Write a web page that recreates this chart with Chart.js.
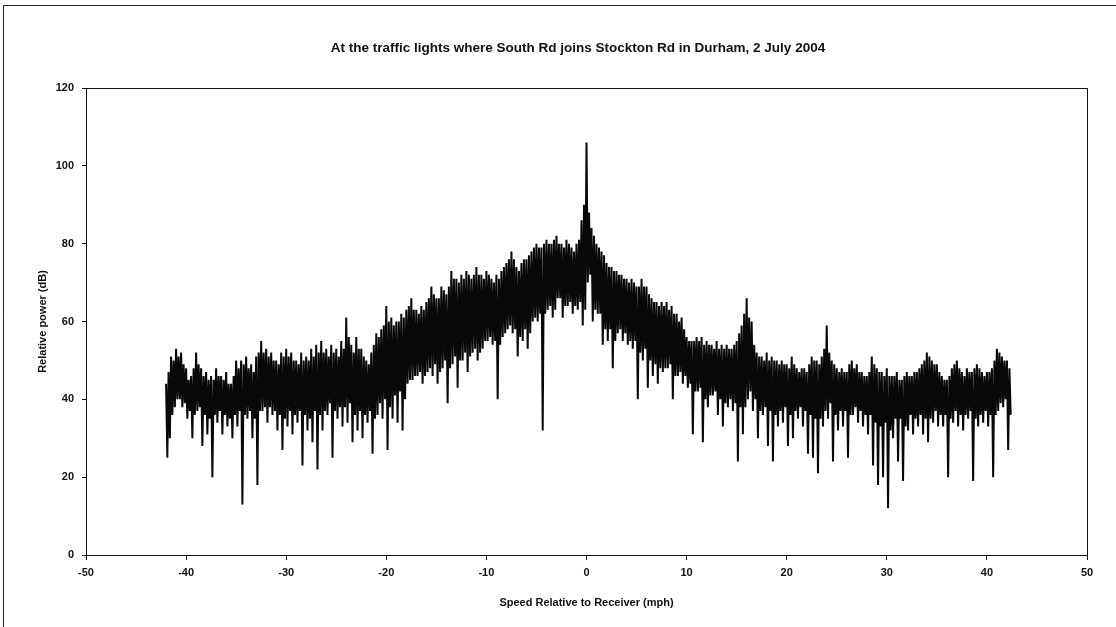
<!DOCTYPE html>
<html lang="en">
<head>
    <meta charset="UTF-8">
    <title>Doppler spectrum</title>
    <script src="https://cdn.jsdelivr.net/npm/chart.js"></script>
    <style>
        html, body { margin: 0; padding: 0; background: #fff; }
        #wrap { width: 1116px; height: 627px; }
    </style>
</head>
<body>
<div id="wrap"><canvas id="spectrum" width="1116" height="627"></canvas></div>
<script>
// speed bins (mph), read every 0.5 mph
const speeds = [
    -42, -41.5, -41, -40.5, -40, -39.5, -39, -38.5, -38, -37.5,
    -37, -36.5, -36, -35.5, -35, -34.5, -34, -33.5, -33, -32.5,
    -32, -31.5, -31, -30.5, -30, -29.5, -29, -28.5, -28, -27.5,
    -27, -26.5, -26, -25.5, -25, -24.5, -24, -23.5, -23, -22.5,
    -22, -21.5, -21, -20.5, -20, -19.5, -19, -18.5, -18, -17.5,
    -17, -16.5, -16, -15.5, -15, -14.5, -14, -13.5, -13, -12.5,
    -12, -11.5, -11, -10.5, -10, -9.5, -9, -8.5, -8, -7.5,
    -7, -6.5, -6, -5.5, -5, -4.5, -4, -3.5, -3, -2.5,
    -2, -1.5, -1, -0.5, 0, 0.5, 1, 1.5, 2, 2.5,
    3, 3.5, 4, 4.5, 5, 5.5, 6, 6.5, 7, 7.5,
    8, 8.5, 9, 9.5, 10, 10.5, 11, 11.5, 12, 12.5,
    13, 13.5, 14, 14.5, 15, 15.5, 16, 16.5, 17, 17.5,
    18, 18.5, 19, 19.5, 20, 20.5, 21, 21.5, 22, 22.5,
    23, 23.5, 24, 24.5, 25, 25.5, 26, 26.5, 27, 27.5,
    28, 28.5, 29, 29.5, 30, 30.5, 31, 31.5, 32, 32.5,
    33, 33.5, 34, 34.5, 35, 35.5, 36, 36.5, 37, 37.5,
    38, 38.5, 39, 39.5, 40, 40.5, 41, 41.5, 42
];

// highest point of the trace in each bin (dB)
const peaks = [
    44, 51, 53, 52, 48, 46, 52, 48, 47, 46,
    48, 46, 47, 44, 50, 50, 51, 49, 51, 55,
    53, 52, 50, 52, 53, 52, 50, 52, 51, 53,
    54, 55, 53, 54, 53, 55, 61, 54, 56, 53,
    50, 52, 57, 58, 64, 61, 60, 62, 63, 66,
    63, 64, 65, 69, 66, 69, 67, 73, 71, 72,
    73, 71, 74, 72, 73, 71, 72, 73, 75, 78,
    74, 75, 76, 78, 80, 79, 81, 80, 82, 80,
    81, 79, 80, 86, 106, 84, 80, 78, 75, 74,
    73, 72, 71, 71, 69, 71, 69, 66, 65, 65,
    65, 64, 62, 61, 56, 55, 56, 56, 55, 54,
    55, 54, 54, 53, 55, 59, 66, 60, 52, 51,
    52, 51, 50, 50, 49, 51, 48, 48, 47, 51,
    50, 51, 59, 50, 48, 48, 47, 50, 49, 47,
    46, 51, 48, 47, 48, 46, 47, 45, 47, 46,
    47, 49, 52, 50, 49, 46, 45, 48, 50, 47,
    48, 47, 49, 47, 47, 48, 53, 51, 50
];

// lowest dip in each bin (dB)
const troughs = [
    25, 36, 40, 38, 35, 30, 37, 28, 31, 20,
    34, 31, 33, 30, 33, 13, 35, 30, 18, 37,
    34, 36, 32, 27, 33, 31, 34, 23, 32, 29,
    22, 32, 36, 25, 35, 33, 34, 29, 32, 30,
    34, 26, 36, 35, 27, 35, 34, 32, 44, 45,
    46, 44, 47, 46, 44, 48, 39, 49, 43, 50,
    47, 52, 50, 53, 55, 54, 40, 56, 58, 57,
    51, 55, 53, 60, 60, 32, 63, 61, 66, 61,
    64, 62, 63, 59, 70, 60, 62, 54, 55, 48,
    57, 55, 54, 53, 40, 50, 43, 46, 44, 47,
    48, 40, 46, 44, 43, 31, 42, 29, 38, 41,
    36, 33, 38, 37, 24, 31, 40, 37, 30, 36,
    28, 24, 33, 34, 28, 30, 35, 33, 26, 25,
    21, 33, 35, 24, 32, 33, 25, 36, 34, 33,
    31, 23, 18, 20, 12, 30, 24, 19, 32, 31,
    33, 31, 29, 34, 33, 33, 20, 34, 33, 32,
    35, 19, 33, 34, 33, 20, 37, 38, 27
];

// top of the solid band between the peaks (dB)
const ceilings = [
    47, 50, 51, 49, 45, 48, 49, 46, 45, 45,
    46, 45, 44, 46, 48, 49, 48, 47, 52, 52,
    51, 50, 49, 51, 51, 50, 49, 50, 50, 51,
    52, 52, 51, 52, 51, 53, 56, 52, 53, 51,
    49, 54, 56, 59, 60, 59, 60, 61, 64, 63,
    62, 63, 66, 67, 66, 68, 69, 71, 70, 71,
    72, 72, 72, 71, 72, 70, 71, 74, 76, 76,
    73, 76, 77, 79, 79, 80, 80, 81, 80, 79,
    80, 78, 81, 90, 88, 82, 79, 77, 74, 73,
    72, 71, 70, 70, 69, 69, 67, 65, 64, 64,
    63, 62, 60, 58, 55, 55, 55, 54, 54, 53,
    53, 53, 53, 54, 57, 62, 61, 54, 51, 50,
    50, 50, 49, 49, 48, 49, 47, 48, 49, 50,
    49, 53, 52, 49, 47, 47, 49, 48, 47, 46,
    47, 49, 47, 46, 46, 46, 45, 46, 46, 47,
    48, 50, 51, 49, 47, 45, 46, 49, 48, 46,
    47, 48, 48, 46, 47, 50, 52, 50, 48
];

// bottom of the solid band (dB)
const floors = [
    30, 38, 40, 39, 37, 36, 38, 36, 35, 36,
    37, 36, 35, 36, 37, 36, 37, 35, 37, 38,
    38, 37, 36, 35, 37, 36, 37, 36, 35, 37,
    36, 37, 39, 37, 38, 38, 39, 36, 37, 36,
    37, 35, 39, 40, 38, 41, 42, 40, 45, 46,
    47, 46, 48, 49, 47, 50, 48, 51, 50, 52,
    51, 53, 52, 55, 56, 55, 54, 57, 59, 58,
    56, 58, 57, 61, 62, 62, 64, 63, 66, 64,
    65, 64, 65, 63, 72, 63, 62, 58, 58, 55,
    58, 57, 55, 55, 52, 53, 50, 49, 48, 48,
    49, 46, 47, 46, 44, 42, 43, 40, 41, 42,
    40, 39, 40, 39, 38, 38, 42, 40, 37, 38,
    37, 36, 37, 38, 36, 37, 38, 37, 36, 35,
    35, 37, 39, 36, 37, 37, 36, 38, 37, 36,
    36, 34, 33, 34, 32, 35, 35, 33, 36, 35,
    36, 35, 35, 37, 36, 36, 35, 37, 36, 36,
    37, 35, 36, 37, 36, 36, 39, 40, 36
];

const chartTitle = 'At the traffic lights where South Rd joins Stockton Rd in Durham, 2 July 2004';
const xTicks = [-50, -40, -30, -20, -10, 0, 10, 20, 30, 40, 50];
const yTicks = [0, 20, 40, 60, 80, 100, 120];

// trace inside each 0.5 mph bin: peak, dip, band top, band bottom
let trace = [];
for (let i = 0; i < speeds.length; i++) {
    trace.push({x: speeds[i], y: peaks[i]});
    trace.push({x: speeds[i] + 0.125, y: troughs[i]});
    trace.push({x: speeds[i] + 0.25, y: ceilings[i]});
    trace.push({x: speeds[i] + 0.375, y: floors[i]});
}

const tickFont = {family: 'Liberation Sans', size: 11, weight: 'bold'};

// page frame, plot box and the title (the title sits a little right of centre)
const frame = {
    id: 'frame',
    beforeDraw(chart) {
        const c = chart.ctx;
        c.save();
        c.fillStyle = '#fff';
        c.fillRect(0, 0, chart.width, chart.height);
        c.strokeStyle = '#222';
        c.lineWidth = 1;
        c.beginPath();
        c.moveTo(3.5, chart.height);
        c.lineTo(3.5, 5.5);
        c.lineTo(chart.width, 5.5);
        c.stroke();
        c.fillStyle = '#111';
        c.font = 'bold 13.5px "Liberation Sans"';
        c.textAlign = 'center';
        c.textBaseline = 'middle';
        c.fillText(chartTitle, 578, 48);
        c.restore();
    },
    afterDraw(chart) {
        const a = chart.chartArea;
        const c = chart.ctx;
        c.save();
        c.strokeStyle = '#111';
        c.lineWidth = 1;
        c.strokeRect(Math.round(a.left) + 0.5, Math.round(a.top) + 0.5,
            Math.round(a.right - a.left), Math.round(a.bottom - a.top));
        c.restore();
    }
};

new Chart(document.getElementById('spectrum').getContext('2d'), {
    type: 'line',
    data: {
        datasets: [{
            label: 'Relative power',
            data: trace,
            borderColor: '#080808',
            borderWidth: 2,
            pointRadius: 0,
            tension: 0
        }]
    },
    options: {
        responsive: false,
        animation: false,
        layout: {padding: {left: 0, right: 29, top: 88, bottom: 0}},
        plugins: {
            legend: {display: false},
            tooltip: {enabled: false},
            title: {display: false}
        },
        scales: {
            x: {
                type: 'linear',
                min: -50, max: 50,
                afterBuildTicks: s => { s.ticks = xTicks.map(v => ({value: v})); },
                afterFit: s => { s.height = 72; },
                grid: {display: true, drawOnChartArea: false, tickLength: 5, color: '#111'},
                border: {color: '#111'},
                ticks: {color: '#111', font: tickFont, padding: 6, maxRotation: 0},
                title: {
                    display: true,
                    text: 'Speed Relative to Receiver (mph)',
                    color: '#111',
                    font: tickFont,
                    padding: {top: 0, bottom: 17}
                }
            },
            y: {
                min: 0, max: 120,
                afterBuildTicks: s => { s.ticks = yTicks.map(v => ({value: v})); },
                afterFit: s => { s.width = 86; },
                grid: {display: true, drawOnChartArea: false, tickLength: 4, color: '#111'},
                border: {color: '#111'},
                ticks: {color: '#111', font: tickFont, padding: 8},
                title: {
                    display: true,
                    text: 'Relative power (dB)',
                    color: '#111',
                    font: tickFont,
                    padding: {top: 36, bottom: 0}
                }
            }
        }
    },
    plugins: [frame]
});
</script>
</body>
</html>
